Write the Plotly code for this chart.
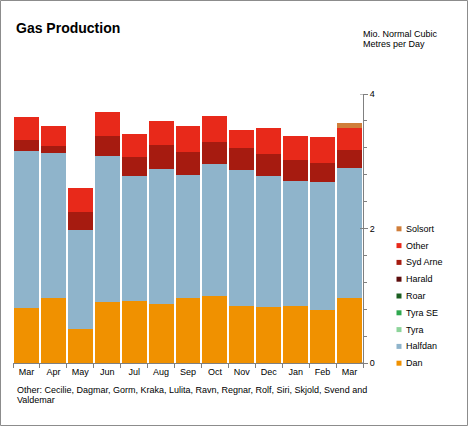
import plotly.graph_objects as go

months = ["Mar", "Apr", "May", "Jun", "Jul", "Aug", "Sep", "Oct", "Nov", "Dec", "Jan", "Feb", "Mar"]
# unique category keys (two "Mar")
cats = [f"{m}_{i}" for i, m in enumerate(months)]

dan      = [0.82, 0.96, 0.50, 0.90, 0.92, 0.87, 0.96, 1.00, 0.85, 0.84, 0.85, 0.79, 0.97]
halfdan  = [2.33, 2.17, 1.48, 2.18, 1.86, 2.02, 1.84, 1.96, 2.02, 1.94, 1.85, 1.90, 1.93]
tyra     = [0] * 13
tyra_se  = [0] * 13
roar     = [0] * 13
harald   = [0] * 13
syd_arne = [0.17, 0.10, 0.26, 0.29, 0.28, 0.35, 0.34, 0.32, 0.32, 0.33, 0.32, 0.29, 0.26]
other    = [0.34, 0.29, 0.36, 0.36, 0.34, 0.36, 0.39, 0.39, 0.27, 0.39, 0.36, 0.38, 0.33]
solsort  = [0, 0, 0, 0, 0, 0, 0, 0, 0, 0, 0, 0, 0.08]

series_names = ["Dan", "Halfdan", "Tyra", "Tyra SE", "Roar", "Harald", "Syd Arne", "Other", "Solsort"]
series_values = [dan, halfdan, tyra, tyra_se, roar, harald, syd_arne, other, solsort]
series_colors = ["#F09100", "#8FB4CB", "#8DD49A", "#2FA84F", "#1B5E20", "#5C0C0C", "#A61B10", "#E8291A", "#D07E3A"]

y_ticks = [0, 2, 4]
title_text = "Gas Production"
unit_lines = ["Mio. Normal Cubic", "Metres per Day"]
note_lines = ["Other: Cecilie, Dagmar, Gorm, Kraka, Lulita, Ravn, Regnar, Rolf, Siri, Skjold, Svend and",
              "Valdemar"]

W, H = 468, 426
ML, MR, MT, MB = 13, 105, 94, 63
PW, PH = W - ML - MR, H - MT - MB
FONT = "Arial, Liberation Sans, sans-serif"


def px(x):
    return (x - ML) / PW


def py(y):
    return (H - MB - y) / PH


fig = go.Figure()
for name, vals, col in zip(series_names, series_values, series_colors):
    fig.add_trace(go.Bar(x=cats, y=vals, name=name, marker_color=col,
                         marker_line_width=0, showlegend=False))

shapes = []
annotations = []

# manual legend (top to bottom: reversed series order)
leg_x, leg_y0, leg_dy = 399, 228.8, 16.8
for i, (name, col) in enumerate(zip(series_names[::-1], series_colors[::-1])):
    yc = leg_y0 + i * leg_dy
    shapes.append(dict(type="rect", xref="paper", yref="paper",
                       x0=px(leg_x - 2.5), x1=px(leg_x + 2.5),
                       y0=py(yc + 2.5), y1=py(yc - 2.5),
                       fillcolor=col, line=dict(width=0)))
    annotations.append(dict(text=name, xref="paper", yref="paper",
                            x=px(403.5), y=py(yc), xanchor="left", yanchor="middle",
                            showarrow=False, font=dict(family=FONT, size=9, color="#000")))

# major y ticks crossing the axis (inner half)
for v in y_ticks:
    shapes.append(dict(type="line", xref="paper", yref="y",
                       x0=px(W - MR - 3), x1=1, y0=v, y1=v,
                       line=dict(color="#808080", width=1)))

# outer border
shapes.append(dict(type="rect", xref="paper", yref="paper",
                   x0=px(0.5), x1=px(W - 0.5), y0=py(H - 0.5), y1=py(0.5),
                   line=dict(color="#8C8C8C", width=1), fillcolor="rgba(0,0,0,0)", layer="above"))

# title
annotations.append(dict(text="<b>" + title_text + "</b>", xref="paper", yref="paper",
                        x=px(14), y=py(28), xanchor="left", yanchor="middle",
                        showarrow=False, font=dict(family=FONT, size=14, color="#000")))
# unit
for i, t in enumerate(unit_lines):
    annotations.append(dict(text=t, xref="paper", yref="paper",
                            x=px(361), y=py(34 + 10 * i), xanchor="left", yanchor="middle",
                            showarrow=False, font=dict(family=FONT, size=9, color="#000")))
# note
for i, t in enumerate(note_lines):
    annotations.append(dict(text=t, xref="paper", yref="paper",
                            x=px(15), y=py(389.5 + 10.3 * i), xanchor="left", yanchor="middle",
                            showarrow=False, font=dict(family=FONT, size=9, color="#000")))

fig.update_layout(
    width=W, height=H,
    margin=dict(l=ML, r=MR, t=MT, b=MB, pad=0),
    barmode="stack", bargap=0.075,
    paper_bgcolor="white", plot_bgcolor="white",
    font=dict(family=FONT, size=9, color="#000"),
    shapes=shapes, annotations=annotations,
    xaxis=dict(type="category", tickmode="array", tickvals=cats, ticktext=months,
               range=[-0.5, 12.5], tickson="boundaries", ticks="outside", ticklen=4,
               tickcolor="#808080", showline=True, linecolor="#808080", linewidth=1,
               showgrid=False, tickfont=dict(size=9, color="#000")),
    yaxis=dict(side="right", range=[0, 4], tickvals=y_ticks, ticks="outside", ticklen=4,
               tickcolor="#808080", showline=True, linecolor="#808080", linewidth=1,
               showgrid=False, zeroline=False, tickfont=dict(size=9, color="#000"),
               minor=dict(dtick=0.4, ticks="outside", ticklen=3, tickcolor="#808080", showgrid=False)),
)

fig.write_html("out.html", config={"displayModeBar": False},
               post_script="document.body.style.margin='0';document.body.style.overflow='hidden';")
